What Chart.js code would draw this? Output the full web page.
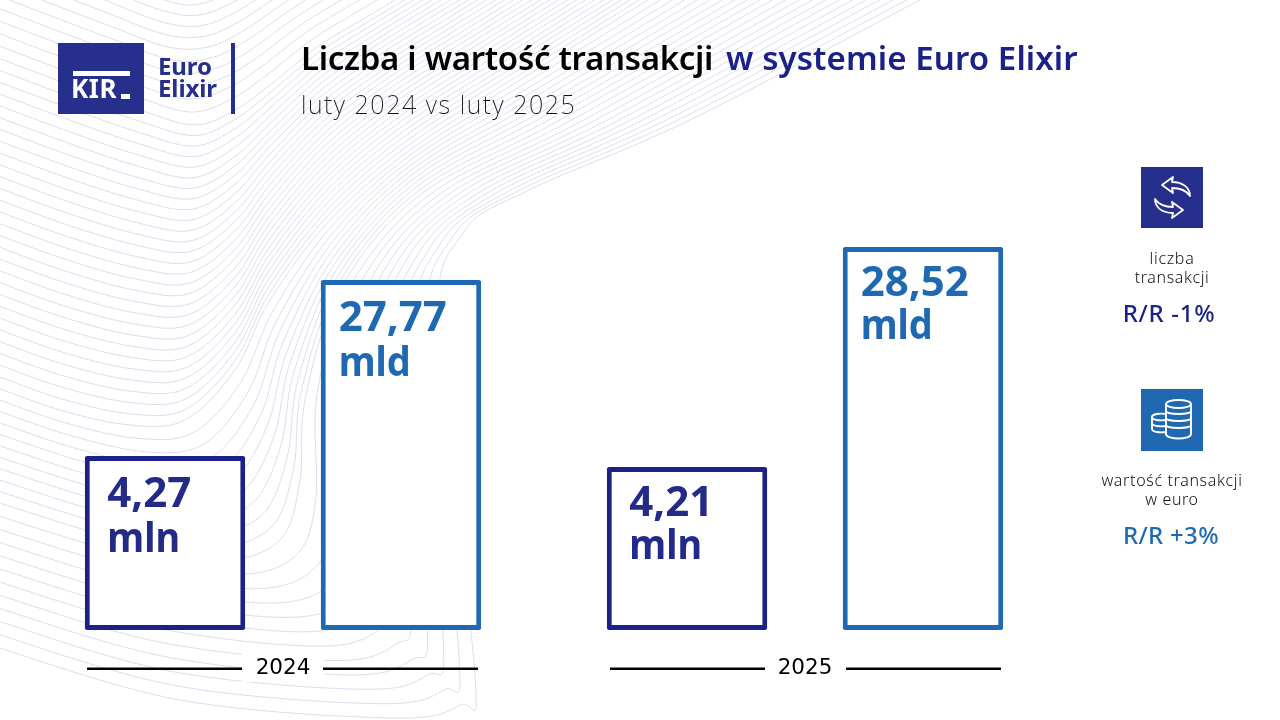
<!DOCTYPE html>
<html lang="pl">
<head>
<meta charset="utf-8">
<title>Liczba i wartość transakcji w systemie Euro Elixir</title>
<script src="https://cdn.jsdelivr.net/npm/chart.js@4/dist/chart.umd.min.js"></script>
<style>
  html, body { margin: 0; padding: 0; background: #fff; }
  body { width: 1280px; height: 720px; overflow: hidden; position: relative; font-family: "Noto Sans", sans-serif; }
  #chart { position: absolute; left: 0; top: 0; }
  .t { position: absolute; white-space: nowrap; line-height: 1; }
  .c { text-align: center; width: 200px; }
  .logo-box { position: absolute; left: 58px; top: 43px; width: 86px; height: 71px; background: #272f8c; }
  .logo-bar { position: absolute; background: #fff; }
  .logo-rule { position: absolute; left: 231px; top: 43px; width: 4px; height: 71px; background: #272f8c; }
  svg { position: absolute; }
</style>
</head>
<body>
<canvas id="chart" width="1280" height="720"></canvas>

<div class="logo-box"></div>
<div class="logo-bar" style="left:73px;top:71px;width:57px;height:5px"></div>
<div class="t" style="left:71px;top:75px;font-size:26px;font-weight:700;color:#fff;letter-spacing:.6px">KIR</div>
<div class="logo-bar" style="left:121px;top:94px;width:9px;height:5px"></div>
<div class="t" style="left:158px;top:54px;font-size:24px;font-weight:700;color:#272f8c;letter-spacing:-.1px">Euro</div>
<div class="t" style="left:158px;top:76px;font-size:24px;font-weight:700;color:#272f8c;letter-spacing:-.1px">Elixir</div>
<div class="logo-rule"></div>

<div class="t" style="left:301px;top:41px;font-size:33px;font-weight:600;color:#000;letter-spacing:-.3px">Liczba i wartość transakcji</div>
<div class="t" style="left:726px;top:41px;font-size:33px;font-weight:600;color:#1b2186;letter-spacing:.1px">w systemie Euro Elixir</div>
<div class="t" style="left:301px;top:92px;font-size:25px;font-weight:200;color:#111;letter-spacing:1.55px">luty 2024 vs luty 2025</div>

<svg style="left:1141px;top:167px" width="62" height="62" viewBox="1141 167 62 62">
  <rect x="1141" y="167" width="62" height="61" fill="#272f8c"/>
  <g fill="none" stroke="#fff" stroke-width="1.8" stroke-linejoin="round">
    <path d="M1162 185 L1173 177 L1172 182 C1182 182 1190 187 1190 196 C1186 190 1180 188 1172 188 L1173 193 Z"/>
    <path d="M1183 210 L1172 218 L1173 213 C1163 213 1155 208 1155 199 C1159 205 1165 207 1173 207 L1172 202 Z"/>
  </g>
</svg>
<svg style="left:1141px;top:389px" width="62" height="62" viewBox="1141 389 62 62">
  <rect x="1141" y="389" width="62" height="62" fill="#2168b2"/>
  <g fill="none" stroke="#fff" stroke-width="1.9">
    <path d="M1166 414 C1160 413 1152 414 1152 417 L1152 429 C1152 432 1160 433 1166 432"/>
    <path d="M1152 417 C1152 420 1160 421 1166 420 M1152 423 C1152 426 1160 427 1166 426"/>
    <ellipse cx="1178.5" cy="404" rx="12.5" ry="4"/>
    <path d="M1166 404 L1166 434 C1166 440 1191 440 1191 434 L1191 404"/>
    <path d="M1166 411 C1166 415 1191 415 1191 411 M1166 418 C1166 422 1191 422 1191 418 M1166 425 C1166 429 1191 429 1191 425"/>
  </g>
</svg>

<div class="t c" style="left:1072px;top:250px;font-size:16px;font-weight:300;color:#111;letter-spacing:.7px">liczba</div>
<div class="t c" style="left:1072px;top:269px;font-size:16px;font-weight:300;color:#111;letter-spacing:.6px">transakcji</div>
<div class="t c" style="left:1069px;top:301px;font-size:24px;font-weight:500;color:#1b2186;letter-spacing:.7px">R/R -1%</div>
<div class="t c" style="left:1072px;top:472px;font-size:16px;font-weight:300;color:#111;letter-spacing:.65px">wartość transakcji</div>
<div class="t c" style="left:1072px;top:491px;font-size:16px;font-weight:300;color:#111;letter-spacing:.6px">w euro</div>
<div class="t c" style="left:1071px;top:523px;font-size:24px;font-weight:500;color:#1f69b3;letter-spacing:.3px">R/R +3%</div>

<script>
const years = ['2024', '2025'];
const transactionCount = [4.27, 4.21];   // mln
const transactionValue = [27.77, 28.52]; // mld euro
const countUnit = 'mln';
const valueUnit = 'mld';
const countColor = '#1b2186';
const valueColor = '#1f69b3';

// background contour lines, decoration only: a few key curves, the rest blended between them
const waveKeys = [
  { at: 0,  pts: [[-10,-70],[40,-50],[90,-30],[150,-5],[190,5],[225,-5],[260,-25],[300,-50],[350,-80],[420,-120]] },
  { at: 10, pts: [[-10,55],[70,85],[140,110],[195,125],[235,110],[270,85],[320,45],[370,15],[420,-15],[470,-45]] },
  { at: 38, pts: [[-10,385],[60,410],[130,425],[185,420],[235,370],[270,300],[330,220],[410,150],[520,80],[680,-20]] },
  { at: 48, pts: [[-10,500],[120,540],[220,560],[280,540],[300,480],[305,400],[340,290],[420,195],[560,120],[790,-10]] },
  { at: 59, pts: [[-10,645],[180,700],[393,718],[460,705],[475,675],[438,330],[463,233],[529,190],[690,120],[920,0]] }
];

function curveAt(i) {
  let k = 0;
  while (k < waveKeys.length - 2 && i > waveKeys[k + 1].at) k++;
  const a = waveKeys[k], b = waveKeys[k + 1];
  const f = (i - a.at) / (b.at - a.at);
  return a.pts.map((p, n) => [p[0] + (b.pts[n][0] - p[0]) * f, p[1] + (b.pts[n][1] - p[1]) * f]);
}

function strokeCurve(ctx, pts) {
  ctx.beginPath();
  ctx.moveTo(pts[0][0], pts[0][1]);
  for (let i = 0; i < pts.length - 1; i++) {
    const p0 = pts[i - 1] || pts[i], p1 = pts[i], p2 = pts[i + 1], p3 = pts[i + 2] || p2;
    ctx.bezierCurveTo(
      p1[0] + (p2[0] - p0[0]) / 6, p1[1] + (p2[1] - p0[1]) / 6,
      p2[0] - (p3[0] - p1[0]) / 6, p2[1] - (p3[1] - p1[1]) / 6,
      p2[0], p2[1]);
  }
  ctx.stroke();
}

const backdrop = {
  id: 'backdrop',
  beforeDraw(chart) {
    const ctx = chart.ctx, x = chart.scales.x;
    ctx.save();
    ctx.fillStyle = '#fff';
    ctx.fillRect(0, 0, chart.width, chart.height);
    ctx.strokeStyle = '#dddeee';
    ctx.lineWidth = 1;
    for (let i = 0; i <= 59; i++) strokeCurve(ctx, curveAt(i));
    // rule either side of each year label
    years.forEach((y, i) => {
      const cx = x.getPixelForValue(i);
      ctx.fillStyle = '#fff';
      ctx.fillRect(cx - 41, 652, 82, 30);
      ctx.fillStyle = '#000';
      ctx.fillRect(cx - 196 + i, 667.5, 155, 2.5);
      ctx.fillRect(cx + 40 + i, 667.5, 155, 2.5);
    });
    ctx.restore();
  }
};

// label offsets below the bar top differ a little per year in the original
const labelDrop = [[51, 95.5], [48.5, 92]];

const barLabels = {
  id: 'barLabels',
  afterDatasetsDraw(chart) {
    const ctx = chart.ctx;
    chart.data.datasets.forEach((ds, d) => {
      chart.getDatasetMeta(d).data.forEach((bar, i) => {
        const left = bar.x - bar.width / 2 + ds.textInset;
        const num = ds.data[i].toFixed(2).replace('.', ',');
        ctx.save();
        ctx.fillStyle = ds.textColor;
        ctx.font = '700 42px "Noto Sans"';
        ctx.textBaseline = 'alphabetic';
        ctx.fillText(num, left, bar.y + labelDrop[i][0]);
        ctx.translate(left, bar.y + labelDrop[i][1]);
        ctx.scale(0.9, 1);
        ctx.fillText(ds.unit, 0, 0);
        ctx.restore();
      });
    });
  }
};

new Chart(document.getElementById('chart'), {
  type: 'bar',
  plugins: [backdrop, barLabels],
  data: {
    labels: years,
    datasets: [
      {
        label: 'liczba transakcji', data: transactionCount, yAxisID: 'yCount', base: 3.321, unit: countUnit, textColor: '#232a87', textInset: 22.5,
        backgroundColor: '#fff', borderColor: countColor, borderWidth: 5, borderRadius: 2, borderSkipped: false
      },
      {
        label: 'wartość transakcji w euro', data: transactionValue, yAxisID: 'yValue', base: 19.816, unit: valueUnit, textColor: valueColor, textInset: 18,
        backgroundColor: '#fff', borderColor: valueColor, borderWidth: 5, borderRadius: 2, borderSkipped: false
      }
    ]
  },
  options: {
    responsive: false,
    animation: false,
    events: [],
    layout: { padding: { left: 22, right: 214, top: 100, bottom: 40 } },
    plugins: { legend: { display: false }, tooltip: { enabled: false }, title: { display: false } },
    datasets: { bar: { categoryPercentage: 0.904, barPercentage: 0.68 } },
    scales: {
      x: {
        grid: { display: false, drawTicks: false },
        border: { display: false },
        ticks: { color: '#000', font: { family: '"DejaVu Sans"', size: 21.5 }, padding: 26, maxRotation: 0 },
        afterFit(axis) { axis.height = 50; }
      },
      // bars in the original do not start at zero, each measure has its own cut-off scale
      yCount: { display: false, min: 3.321, max: 6.212 },
      yValue: { display: false, min: 19.816, max: 31.862 }
    }
  }
});
</script>
</body>
</html>
